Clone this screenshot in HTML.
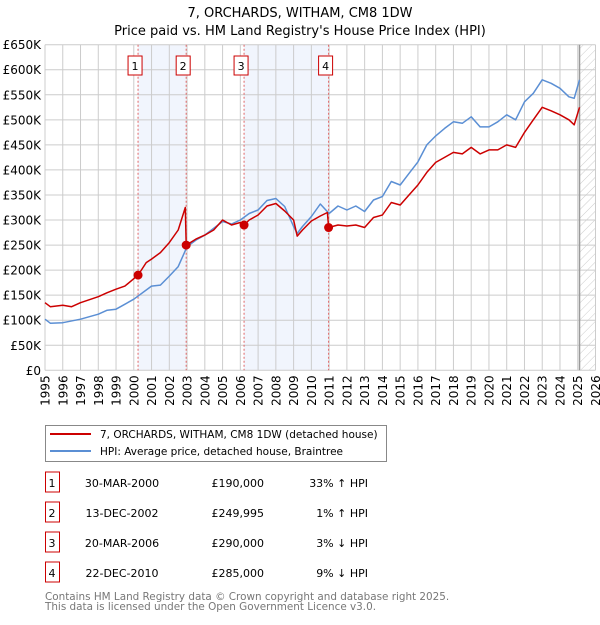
<!DOCTYPE html>
<html><head><meta charset="utf-8"><style>
body{margin:0;background:#fff;font-family:"Liberation Sans","DejaVu Sans",sans-serif;}
svg text{font-family:"DejaVu Sans","Liberation Sans",sans-serif;}
</style></head><body>
<svg id="c" width="600" height="620" xmlns="http://www.w3.org/2000/svg">
<defs><pattern id="hatch" width="6" height="6" patternUnits="userSpaceOnUse" patternTransform="rotate(45)"><line x1="0" y1="0" x2="0" y2="6" stroke="#ccc" stroke-width="1"/></pattern></defs>
<text x="300" y="17" text-anchor="middle" font-size="13">7, ORCHARDS, WITHAM, CM8 1DW</text>
<text x="300" y="35" text-anchor="middle" font-size="13">Price paid vs. HM Land Registry's House Price Index (HPI)</text>
<g id="plot"></g>
<g>
<rect x="45.5" y="425.5" width="341" height="36" fill="#fff" stroke="#888"/>
<line x1="50" y1="434" x2="91" y2="434" stroke="#cc0000" stroke-width="2"/>
<text x="100" y="438" font-size="10.5">7, ORCHARDS, WITHAM, CM8 1DW (detached house)</text>
<line x1="50" y1="451" x2="91" y2="451" stroke="#5b8fd4" stroke-width="2"/>
<text x="100" y="455" font-size="10.5">HPI: Average price, detached house, Braintree</text>
</g>
<g id="table"></g>
<text x="45" y="600" font-size="10.4" fill="#777">Contains HM Land Registry data © Crown copyright and database right 2025.</text>
<text x="45" y="610" font-size="10.4" fill="#777">This data is licensed under the Open Government Licence v3.0.</text>
</svg>
<script>
const hpiYears=[1995,1995.3,1996,1997,1998,1998.5,1999,2000,2001,2001.5,2002,2002.5,2003,2003.5,2004,2005,2005.5,2006,2006.5,2007,2007.5,2008,2008.5,2009,2009.2,2009.5,2010,2010.5,2011,2011.5,2012,2012.5,2013,2013.5,2014,2014.5,2015,2015.5,2016,2016.5,2017,2017.5,2018,2018.5,2019,2019.5,2020,2020.5,2021,2021.5,2022,2022.5,2023,2023.5,2024,2024.5,2024.8,2025.1];
const hpiValues=[102,94,95,102,112,120,122,142,168,170,188,207,247,260,270,297,292,300,313,320,339,343,327,287,273,287,307,332,313,328,320,328,317,340,347,377,370,393,416,450,468,483,496,493,506,486,486,496,510,500,536,553,580,573,563,546,543,580];
const propYears=[1995,1995.3,1996,1996.5,1997,1998,1998.5,1999,1999.5,2000.24,2000.7,2001,2001.5,2002,2002.5,2002.9,2002.95,2003.5,2004,2004.5,2005,2005.5,2006,2006.21,2006.5,2007,2007.5,2008,2008.5,2009,2009.2,2009.5,2010,2010.5,2010.9,2010.97,2011.5,2012,2012.5,2013,2013.5,2014,2014.5,2015,2015.5,2016,2016.5,2017,2017.5,2018,2018.5,2019,2019.5,2020,2020.5,2021,2021.5,2022,2022.5,2023,2023.5,2024,2024.5,2024.8,2025.1];
const propValues=[135,127,130,127,135,147,155,162,168,190,215,222,235,255,280,325,250,262,270,280,300,290,295,290,300,310,328,333,318,300,268,280,298,308,315,285,290,288,290,285,305,310,335,330,350,370,395,415,425,435,432,445,432,440,440,450,445,475,500,525,518,510,500,490,525];
const saleYears=[2000.24,2002.95,2006.21,2010.97];
const saleValues=[190,249.995,290,285];
const saleLabels=["1","2","3","4"];
const saleDates=["30-MAR-2000","13-DEC-2002","20-MAR-2006","22-DEC-2010"];
const salePrices=["£190,000","£249,995","£290,000","£285,000"];
const saleHpi=["33% ↑ HPI","1% ↑ HPI","3% ↓ HPI","9% ↓ HPI"];
const yTicks=[0,50,100,150,200,250,300,350,400,450,500,550,600,650];
const xTicks=[1995,1996,1997,1998,1999,2000,2001,2002,2003,2004,2005,2006,2007,2008,2009,2010,2011,2012,2013,2014,2015,2016,2017,2018,2019,2020,2021,2022,2023,2024,2025,2026];

const NS="http://www.w3.org/2000/svg";
const X0=45,X1=595.5,Y0=370.3,Y1=44.7;
const xs=y=>X0+(y-1995)*(X1-X0)/31;
const ys=v=>Y0-v*(Y0-Y1)/650;
const plot=document.getElementById('plot');
function mk(tag,attrs,parent){const e=document.createElementNS(NS,tag);for(const k in attrs)e.setAttribute(k,attrs[k]);(parent||plot).appendChild(e);return e;}

for(let i=0;i<4;i+=2){
  const r=mk('rect',{x:xs(saleYears[i]),y:Y1,width:xs(saleYears[i+1])-xs(saleYears[i]),height:Y0-Y1,fill:'#eef3fc',opacity:0.8});
  
  
}
const h=mk('rect',{x:xs(2025.1),y:Y1,width:X1-xs(2025.1),height:Y0-Y1,fill:'url(#hatch)'});


yTicks.forEach(v=>{
  const l=mk('line',{x1:X0,x2:X1,y1:ys(v),y2:ys(v),stroke:'#ccc','stroke-width':1});
  
  
  const t=mk('text',{x:41,y:ys(v)+4.5,'text-anchor':'end','font-size':12});
  t.textContent=v===0?'£0':'£'+v+'K';
  
  
});
xTicks.forEach(y=>{
  const l=mk('line',{x1:xs(y),x2:xs(y),y1:Y1,y2:Y0,stroke:'#ccc','stroke-width':1});
  
  
  const t=mk('text',{x:0,y:0,'text-anchor':'end','font-size':12,transform:`translate(${xs(y)+4.5},${Y0+5}) rotate(-90)`});
  t.textContent=y;
  
  
});
const ln=mk('line',{x1:xs(2025.1),x2:xs(2025.1),y1:Y1,y2:Y0,stroke:'#999','stroke-width':1.5});


saleYears.forEach((y,i)=>{
  const l=mk('line',{x1:xs(y),x2:xs(y),y1:Y1,y2:Y0,stroke:'#e06666','stroke-width':1,'stroke-dasharray':'2,2'});
  
  
  const r=mk('rect',{x:xs(y)-10,y:56,width:14,height:19,fill:'#fff',stroke:'#cc0000'});
  
  
  const t=mk('text',{x:xs(y)-3,y:70,'text-anchor':'middle','font-size':11});
  t.textContent=saleLabels[i];
  
  
});
function path(xa,va,color,name){
  const p=mk('path',{d:xa.map((x,i)=>(i?'L':'M')+xs(x).toFixed(1)+','+ys(va[i]).toFixed(1)).join(''),fill:'none',stroke:color,'stroke-width':1.5,'stroke-linejoin':'round'});
  
  
}
path(hpiYears,hpiValues,'#5b8fd4','hpi-line');
path(propYears,propValues,'#cc0000','property-line');
saleYears.forEach((y,i)=>{
  const c=mk('circle',{cx:xs(y),cy:ys(saleValues[i]),r:4.5,fill:'#cc0000'});
  
  
});
const tb=document.getElementById('table');
saleLabels.forEach((s,i)=>{
  const y=483+i*30;
  const r=mk('rect',{x:45.5,y:y-11,width:14,height:20,fill:'#fff',stroke:'#cc0000'},tb);
  
  
  const cells=[[52,'middle',s],[122,'middle',saleDates[i]],[264,'end',salePrices[i]],[368,'end',saleHpi[i]]];
  cells.forEach(c=>{
    const t=mk('text',{x:c[0],y:y+4,'text-anchor':c[1],'font-size':11},tb);
    t.textContent=c[2];
    
    
  });
});
</script>
</body></html>
